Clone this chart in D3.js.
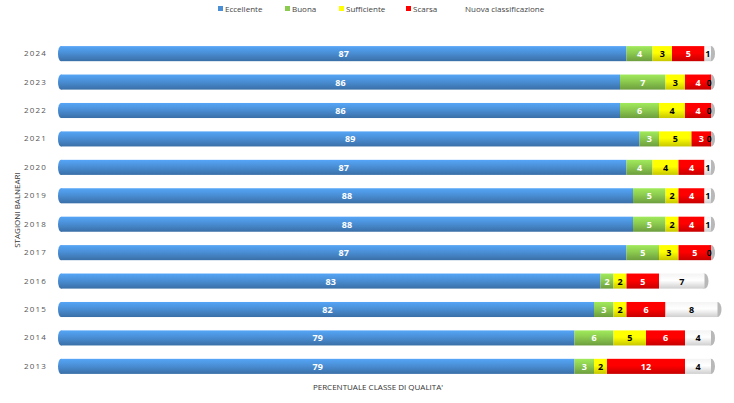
<!DOCTYPE html>
<html><head><meta charset="utf-8">
<script src="https://cdn.jsdelivr.net/npm/d3@7"></script>
<style>body{margin:0;background:#fff;font-family:"Open Sans",sans-serif}</style>
</head><body><div id="chart"></div>
<script>
// Data
const years = ["2024","2023","2022","2021","2020","2019","2018","2017","2016","2015","2014","2013"];
const series = ["Eccellente","Buona","Sufficiente","Scarsa","Nuova classificazione"];
const eccellente = [87,86,86,89,87,88,88,87,83,82,79,79];
const buona      = [4,7,6,3,4,5,5,5,2,3,6,3];
const sufficiente= [3,3,4,5,4,2,2,3,2,2,5,2];
const scarsa     = [5,4,4,3,4,4,4,5,5,6,6,12];
const nuova      = [1,0,0,0,1,1,1,0,7,8,4,4];

const colors = ["#4a8fd6","#8ccb4f","#ffff00","#ff0000","#ffffff"];
const textColors = ["#fff","#fff","#000","#fff","#000"];

const W = 734, H = 403;
const svg = d3.select("#chart").append("svg").attr("width", W).attr("height", H);
const defs = svg.append("defs");
colors.forEach((c, i) => {
  const g = defs.append("linearGradient").attr("id", "g" + i).attr("x1", 0).attr("y1", 0).attr("x2", 0).attr("y2", 1);
  const base = d3.color(c);
  g.append("stop").attr("offset", "0%").attr("stop-color", i === 4 ? "#f4f4f4" : base.brighter(0.4));
  g.append("stop").attr("offset", "45%").attr("stop-color", c);
  g.append("stop").attr("offset", "100%").attr("stop-color", i === 4 ? "#cfcfcf" : base.darker(0.7));
});

const x = d3.scaleLinear().domain([0, 100]).range([61, 711]);
const y = d3.scaleBand().domain(years).range([39, 381]).paddingInner(0.47).paddingOuter(0.25);

const rows = years.map((yr, i) => {
  const vals = [eccellente[i], buona[i], sufficiente[i], scarsa[i], nuova[i]];
  let acc = 0;
  return { yr, segs: vals.map((v, k) => { const s = { k, v, x0: acc, x1: acc + v }; acc += v; return s; }) };
});

const row = svg.selectAll(".row").data(rows).join("g")
  .attr("transform", d => `translate(0,${y(d.yr)})`);
const bh = y.bandwidth();

// right cap
row.append("ellipse")
  .attr("cx", d => x(d.segs[4].x1))
  .attr("cy", bh / 2).attr("rx", 4).attr("ry", bh / 2)
  .attr("fill", "#b8b8b8");

row.selectAll("rect").data(d => d.segs).join("rect")
  .attr("x", s => x(s.x0)).attr("y", 0)
  .attr("width", s => x(s.x1) - x(s.x0)).attr("height", bh)
  .attr("fill", s => `url(#g${s.k})`);

// left rounded end
row.append("ellipse").attr("cx", x(0)).attr("cy", bh / 2).attr("rx", 3).attr("ry", bh / 2)
  .attr("fill", "url(#g0)");

row.selectAll("text").data(d => d.segs).join("text")
  .attr("x", s => s.v === 0 ? x(s.x1) - 2 : (x(s.x0) + x(s.x1)) / 2)
  .attr("y", bh / 2 + 3.5)
  .attr("text-anchor", "middle")
  .attr("font-size", 9).attr("font-weight", "bold")
  .attr("fill", s => s.v === 0 ? "#000" : textColors[s.k])
  .text(s => (s.v === 0 && s.k !== 4) ? "" : s.v);

// y axis
svg.append("g").attr("transform", "translate(49,0)")
  .call(d3.axisLeft(y).tickSize(0).tickPadding(2))
  .call(g => g.select(".domain").remove())
  .selectAll("text").attr("font-size", 8).attr("fill", "#555").attr("letter-spacing", 1.2)
  .attr("font-family", "Open Sans");

svg.append("text").attr("transform", "translate(20,210) rotate(-90)")
  .attr("text-anchor", "middle").attr("font-size", 8).attr("fill", "#333").text("STAGIONI BALNEARI");
svg.append("text").attr("x", 378).attr("y", 390)
  .attr("text-anchor", "middle").attr("font-size", 8).attr("fill", "#333").text("PERCENTUALE CLASSE DI QUALITA'");

// legend
const lx = [218, 285, 339, 406, 458];
const lg = svg.selectAll(".lg").data(series).join("g").attr("transform", (d, i) => `translate(${lx[i]},5)`);
lg.append("rect").attr("width", 5).attr("height", 5).attr("y", 1).attr("fill", (d, i) => i === 4 ? "none" : colors[i]);
lg.append("text").attr("x", 7).attr("y", 7).attr("font-size", 8).attr("fill", "#444").text(d => d);
</script></body></html>
